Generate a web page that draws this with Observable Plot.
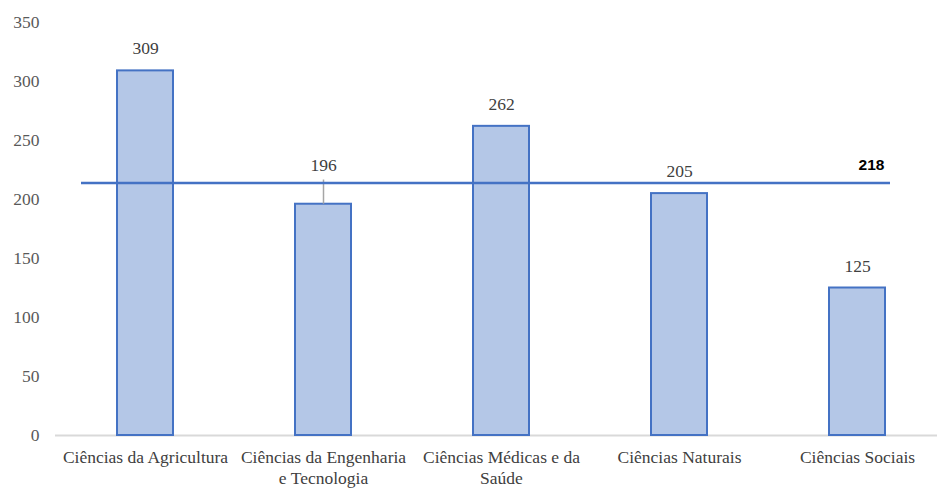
<!DOCTYPE html>
<html>
<head>
<meta charset="utf-8">
<script src="https://cdn.jsdelivr.net/npm/d3@7"></script>
<script src="https://cdn.jsdelivr.net/npm/@observablehq/plot@0.6"></script>
<style>
  html, body { margin: 0; padding: 0; background: #fff; overflow: hidden; }
  #chart { width: 937px; height: 489px; overflow: hidden; }
  #chart svg { max-width: none !important; }
</style>
</head>
<body>
<div id="chart"></div>
<script>
const categories = ["Ciências da Agricultura", "Ciências da Engenharia e Tecnologia", "Ciências Médicas e da Saúde", "Ciências Naturais", "Ciências Sociais"];
const tickLabels = ["Ciências da Agricultura", "Ciências da Engenharia\ne Tecnologia", "Ciências Médicas e da\nSaúde", "Ciências Naturais", "Ciências Sociais"];
const values = [309, 196, 262, 205, 125];
const avgLineValue = 214;
const avgLabel = "218";
const yTicks = [0, 50, 100, 150, 200, 250, 300, 350];

const data = categories.map((c, i) => ({category: c, value: values[i], label: String(values[i])}));
const nearLine = d => Math.abs(d.value + 18.6 - avgLineValue) < 8;
const labelMap = new Map(categories.map((c, i) => [c, tickLabels[i]]));

const serif = "'Liberation Serif', 'Times New Roman', serif";

const chart = Plot.plot({
  width: 947,
  height: 489,
  marginLeft: 55,
  marginRight: 0,
  marginTop: 22,
  marginBottom: 54,
  style: {fontFamily: serif, background: "#fff", overflow: "visible", maxWidth: "none"},
  x: {domain: categories, paddingInner: 0.686, paddingOuter: 0.343, label: null},
  y: {domain: [0, 350], label: null},
  marks: [
    Plot.axisY({ticks: yTicks, tickSize: 0, tickPadding: 16, fontSize: 17.5, fontFamily: serif, color: "#595959", label: null}),
    Plot.axisX({tickSize: 0, tickPadding: 12, fontSize: 17.5, fontFamily: serif, color: "#404040", lineHeight: 1.22, tickFormat: d => labelMap.get(d), label: null}),
    Plot.ruleY([0], {stroke: "#d9d9d9", strokeWidth: 2}),
    Plot.barY(data, {x: "category", y: "value", fill: "#b4c7e7", stroke: "#4472c4", strokeWidth: 2}),
    Plot.ruleX(data.filter(nearLine), {x: "category", y1: "value", y2: d => d.value + 20.5, stroke: "#a6a6a6", strokeWidth: 1.5}),
    Plot.ruleY([avgLineValue], {stroke: "#4472c4", strokeWidth: 2.5, insetLeft: 26, insetRight: 57}),
    Plot.text(data.filter(d => !nearLine(d)), {x: "category", y: "value", text: "label", dy: -22, fontSize: 17.5, fontFamily: serif, fill: "#404040"}),
    Plot.text(data.filter(nearLine), {x: "category", y: "value", text: "label", dy: -38.5, fontSize: 17.5, fontFamily: serif, fill: "#404040"}),
    Plot.text([avgLabel], {x: () => categories[categories.length - 1], y: () => avgLineValue, text: d => d, dx: 14, dy: -18, fontSize: 15.5, fontWeight: "bold", fontFamily: "'Liberation Sans', Arial, sans-serif", fill: "#000"})
  ]
});
document.getElementById("chart").appendChild(chart);
</script>
</body>
</html>
